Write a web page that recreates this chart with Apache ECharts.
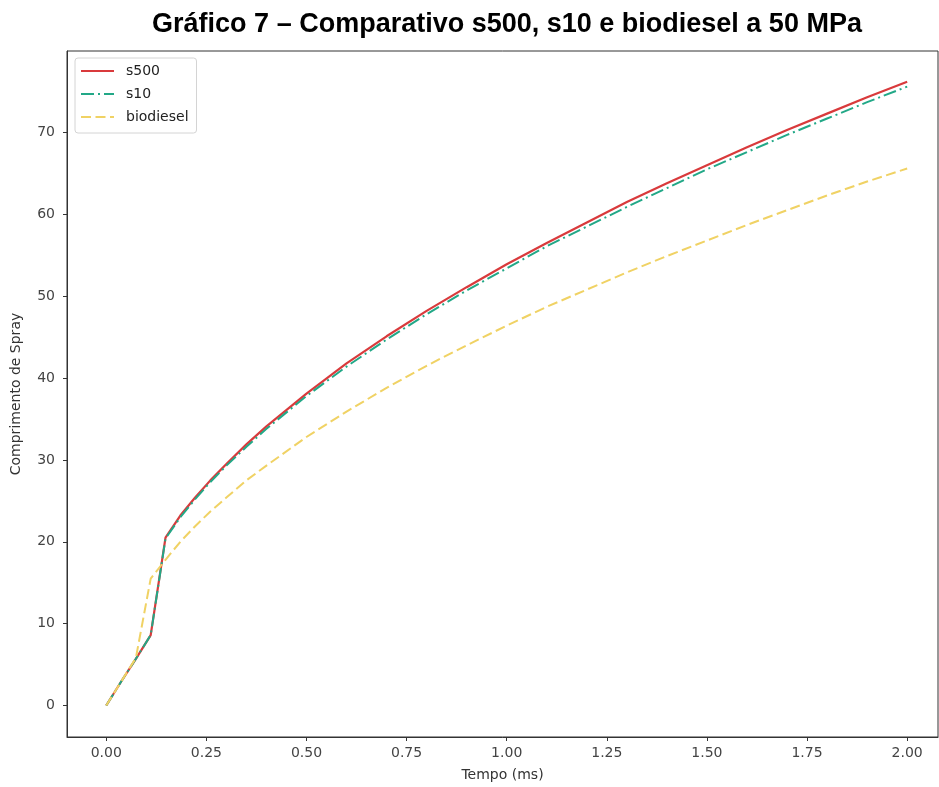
<!DOCTYPE html>
<html>
<head>
<meta charset="utf-8">
<script src="https://cdn.jsdelivr.net/npm/echarts@6/dist/echarts.min.js"></script>
<style>
html,body{margin:0;padding:0;background:#fff;}
#chart{width:939px;height:787px;}
</style>
</head>
<body>
<div id="chart"></div>
<script>
// Time (ms)
const tempo = [0, 0.037, 0.074, 0.111, 0.148, 0.185, 0.222, 0.26, 0.3, 0.35, 0.4, 0.5, 0.6, 0.7, 0.8, 0.9, 1.0, 1.1, 1.2, 1.3, 1.4, 1.5, 1.6, 1.7, 1.8, 1.9, 2.0];
// Spray length
const s500 = [0, 2.9, 5.7, 8.6, 20.5, 23.2, 25.4, 27.5, 29.5, 31.9, 34.1, 38.1, 41.8, 45.1, 48.2, 51.1, 53.9, 56.5, 59.0, 61.5, 63.8, 66.0, 68.2, 70.3, 72.3, 74.3, 76.2];
const s10 = [0, 2.9, 5.7, 8.6, 20.4, 23.0, 25.2, 27.3, 29.3, 31.6, 33.8, 37.8, 41.4, 44.7, 47.8, 50.7, 53.4, 56.1, 58.5, 60.9, 63.2, 65.5, 67.6, 69.7, 71.7, 73.7, 75.6];
const biodiesel = [0, 2.9, 5.8, 15.5, 17.8, 20.0, 21.9, 23.7, 25.4, 27.5, 29.3, 32.8, 35.9, 38.8, 41.5, 44.0, 46.4, 48.7, 50.8, 52.9, 54.9, 56.8, 58.7, 60.5, 62.3, 64.0, 65.6];
const xTicks = [0, 0.25, 0.5, 0.75, 1.0, 1.25, 1.5, 1.75, 2.0];
const yTicks = [0, 10, 20, 30, 40, 50, 60, 70];
const titleText = 'Gráfico 7 – Comparativo s500, s10 e biodiesel a 50 MPa';

const pairs = (ys) => tempo.map((t, i) => [t, ys[i]]);
const font = 'DejaVu Sans';
const chart = echarts.init(document.getElementById('chart'), null, {renderer: 'canvas'});
chart.setOption({
  animation: false,
  backgroundColor: '#fff',
  title: {
    text: titleText,
    left: 502, top: 6, textAlign: 'center',
    textStyle: {fontFamily: 'Liberation Sans', fontWeight: 'bold', fontSize: 27, color: '#000'}
  },
  grid: {left: 67, top: 51, right: 1, bottom: 50, show: true, borderColor: '#333', borderWidth: 1, backgroundColor: 'transparent'},
  legend: {
    orient: 'vertical', left: 75, top: 58,
    itemWidth: 33, itemHeight: 14, itemGap: 9,
    padding: [6, 8, 9, 5],
    backgroundColor: 'rgba(255,255,255,0.85)', borderColor: '#d4d4d4', borderWidth: 1, borderRadius: 3,
    itemStyle: {opacity: 0},
    textStyle: {fontFamily: font, fontSize: 14, color: '#222', padding: [0, 0, 0, 7]},
    data: ['s500', 's10', 'biodiesel']
  },
  xAxis: {
    type: 'value', min: -0.098, max: 2.077,
    name: 'Tempo (ms)', nameLocation: 'middle', nameGap: 31,
    nameTextStyle: {fontFamily: font, fontSize: 14, color: '#333'},
    axisLine: {show: true, onZero: false, lineStyle: {color: '#333', width: 1}},
    axisTick: {show: true, inside: false, length: 4, lineStyle: {color: '#333'}, customValues: xTicks},
    axisLabel: {fontFamily: font, fontSize: 14, color: '#444', margin: 9, customValues: xTicks,
      formatter: (v) => v.toFixed(2)},
    splitLine: {show: false}
  },
  yAxis: {
    type: 'value', min: -3.85, max: 79.95,
    name: 'Comprimento de Spray', nameLocation: 'middle', nameGap: 44,
    nameTextStyle: {fontFamily: font, fontSize: 14, color: '#333'},
    axisLine: {show: true, onZero: false, lineStyle: {color: '#333', width: 1}},
    axisTick: {show: true, inside: false, length: 4, lineStyle: {color: '#333'}, customValues: yTicks},
    axisLabel: {fontFamily: font, fontSize: 14, color: '#444', margin: 12, customValues: yTicks},
    splitLine: {show: false}
  },
  series: [
    {name: 's500', type: 'line', data: pairs(s500), symbol: 'none', z: 2,
     lineStyle: {color: '#d93a3c', width: 2.2}, itemStyle: {color: '#d93a3c'}},
    {name: 's10', type: 'line', data: pairs(s10), symbol: 'none', z: 3,
     lineStyle: {color: '#22a887', width: 2, type: [13, 4, 2, 4]}, itemStyle: {color: '#22a887'}},
    {name: 'biodiesel', type: 'line', data: pairs(biodiesel), symbol: 'none', z: 4,
     lineStyle: {color: '#f0d264', width: 2, type: [10, 4.5]}, itemStyle: {color: '#f0d264'}}
  ]
});
</script>
</body>
</html>
